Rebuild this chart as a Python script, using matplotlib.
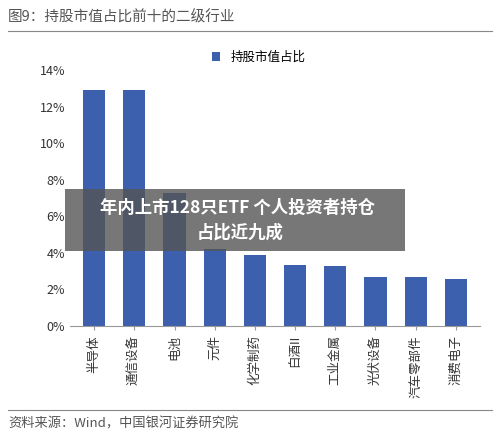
import matplotlib
matplotlib.use("Agg")
import matplotlib.pyplot as plt
from matplotlib.patches import Rectangle
from matplotlib.lines import Line2D

plt.rcParams['font.family'] = ['Noto Sans CJK SC', 'DejaVu Sans']

categories = ['半导体', '通信设备', '电池', '元件', '化学制药', '白酒II', '工业金属', '光伏设备', '汽车零部件', '消费电子']
values = [12.9, 12.9, 7.3, 4.2, 3.9, 3.35, 3.3, 2.7, 2.7, 2.55]
yticks = [0, 2, 4, 6, 8, 10, 12, 14]

W, H = 500, 442
fig = plt.figure(figsize=(W/100, H/100), dpi=100)
ax = fig.add_axes([70/W, 1-326/H, 410/W, 256/H])
ax.bar(range(len(categories)), values, width=0.55, color='#3c5fae', label='持股市值占比')
ax.set_ylim(0, 14)
ax.set_xlim(-0.6, len(categories)-0.4)
ax.set_yticks(yticks)
ax.set_yticklabels([f'{t}%' for t in yticks], fontsize=9, color='#333333')
ax.set_xticks(range(len(categories)))
ax.set_xticklabels(categories, rotation=90, fontsize=9, color='#333333')
for s in ['top', 'right', 'left']:
    ax.spines[s].set_visible(False)
ax.spines['bottom'].set_color('#999999')
ax.tick_params(axis='y', length=0)
ax.tick_params(axis='x', length=3, color='#999999')
ax.legend(loc='upper center', bbox_to_anchor=(0.46, 1.12), frameon=False, fontsize=9,
          handlelength=0.7, handleheight=0.7)

fig.text(8/W, 1-17/H, '图9：持股市值占比前十的二级行业', fontsize=10.5, color='#555555', va='center')
fig.add_artist(Line2D([8/W, 492/W], [1-31/H, 1-31/H], color='#888888', lw=0.8))
fig.add_artist(Line2D([8/W, 492/W], [1-410/H, 1-410/H], color='#888888', lw=0.8))
fig.text(8/W, 1-424/H, '资料来源：Wind，中国银河证券研究院', fontsize=9.5, color='#555555',
         va='center', style='italic')

fig.add_artist(Rectangle((65/W, 1-251/H), 340/W, 62/H, transform=fig.transFigure,
                         facecolor='#555555', alpha=0.8, edgecolor='none'))
fig.text(238/W, 1-208/H, '年内上市128只ETF 个人投资者持仓', fontsize=12.5, color='white',
         ha='center', va='center', fontweight='bold')
fig.text(240/W, 1-233/H, '占比近九成', fontsize=12.5, color='white',
         ha='center', va='center', fontweight='bold')

fig.savefig('out.png', dpi=100)
